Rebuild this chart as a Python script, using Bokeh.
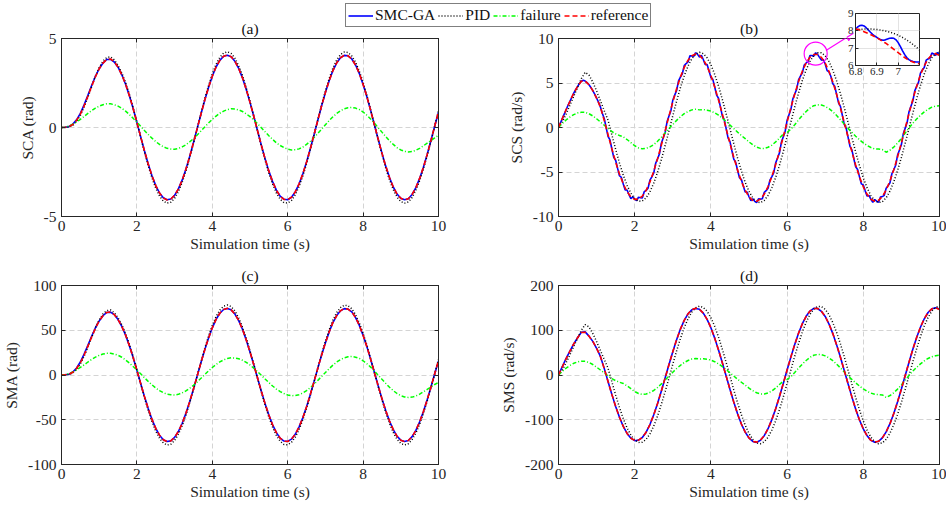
import numpy as np
from bokeh.plotting import figure
from bokeh.layouts import gridplot, column
from bokeh.models import (Range1d, FixedTicker, NumeralTickFormatter, Legend, LegendItem,
                          Arrow, NormalHead, LinearAxis)
from bokeh.embed import file_html
from bokeh.resources import INLINE

# ---------------- data ----------------
t = np.round(np.arange(101) * 0.1, 2)          # 0 ... 10 s, step 0.1
t_fine = np.round(np.arange(201) * 0.05, 2)    # 0 ... 10 s, step 0.05

# (a) SCA (rad)
sca_ref = [0.00, 0.01, 0.05, 0.17, 0.40, 0.75, 1.22, 1.76, 2.32, 2.85,
           3.30, 3.62, 3.82, 3.85, 3.69, 3.39, 2.96, 2.43, 1.79, 1.07,
           0.29, -0.52, -1.31, -2.05, -2.71, -3.26, -3.68, -3.95, -4.07, -4.02,
           -3.81, -3.45, -2.96, -2.34, -1.63, -0.86, -0.05, 0.76, 1.54, 2.25,
           2.88, 3.40, 3.77, 4.00, 4.07, 3.98, 3.72, 3.32, 2.79, 2.14,
           1.41, 0.63, -0.18, -0.99, -1.75, -2.45, -3.04, -3.52, -3.86, -4.04,
           -4.06, -3.92, -3.62, -3.18, -2.61, -1.94, -1.19, -0.39, 0.42, 1.22,
           1.96, 2.63, 3.20, 3.63, 3.92, 4.06, 4.03, 3.85, 3.51, 3.03,
           2.42, 1.73, 0.96, 0.15, -0.66, -1.44, -2.17, -2.81, -3.34, -3.74,
           -3.98, -4.07, -4.00, -3.76, -3.38, -2.86, -2.23, -1.51, -0.73, 0.08,
           0.89]
sca_smc = [0.00, 0.01, 0.05, 0.19, 0.43, 0.79, 1.27, 1.81, 2.36, 2.88,
           3.30, 3.62, 3.82, 3.83, 3.68, 3.39, 2.96, 2.43, 1.79, 1.07,
           0.29, -0.52, -1.31, -2.05, -2.71, -3.26, -3.68, -3.95, -4.06, -4.02,
           -3.81, -3.45, -2.96, -2.34, -1.63, -0.86, -0.05, 0.76, 1.54, 2.25,
           2.88, 3.40, 3.77, 4.00, 4.06, 3.98, 3.72, 3.32, 2.79, 2.14,
           1.41, 0.63, -0.18, -0.99, -1.75, -2.45, -3.04, -3.52, -3.86, -4.03,
           -4.06, -3.92, -3.62, -3.18, -2.61, -1.94, -1.19, -0.39, 0.42, 1.22,
           1.96, 2.63, 3.20, 3.63, 3.92, 4.05, 4.03, 3.85, 3.51, 3.03,
           2.42, 1.73, 0.96, 0.15, -0.66, -1.44, -2.17, -2.81, -3.34, -3.74,
           -3.98, -4.06, -4.00, -3.76, -3.38, -2.86, -2.23, -1.51, -0.73, 0.08,
           0.86]
sca_pid = [0.00, 0.00, 0.03, 0.12, 0.33, 0.68, 1.15, 1.70, 2.30, 2.88,
           3.37, 3.73, 3.93, 3.97, 3.80, 3.49, 3.06, 2.53, 1.87, 1.12,
           0.30, -0.54, -1.37, -2.14, -2.83, -3.41, -3.85, -4.13, -4.25, -4.20,
           -3.98, -3.61, -3.09, -2.45, -1.70, -0.90, -0.05, 0.79, 1.61, 2.35,
           3.01, 3.55, 3.94, 4.18, 4.25, 4.16, 3.89, 3.47, 2.92, 2.24,
           1.47, 0.66, -0.19, -1.03, -1.83, -2.56, -3.18, -3.68, -4.03, -4.22,
           -4.24, -4.10, -3.78, -3.32, -2.73, -2.03, -1.24, -0.41, 0.44, 1.27,
           2.05, 2.75, 3.34, 3.79, 4.10, 4.24, 4.21, 4.02, 3.67, 3.17,
           2.53, 1.81, 1.00, 0.16, -0.69, -1.50, -2.27, -2.94, -3.49, -3.91,
           -4.16, -4.25, -4.18, -3.93, -3.53, -2.99, -2.33, -1.58, -0.76, 0.08,
           0.93]
sca_fail = [0.00, 0.02, 0.08, 0.18, 0.31, 0.46, 0.62, 0.79, 0.95, 1.09,
            1.20, 1.28, 1.33, 1.33, 1.28, 1.20, 1.08, 0.92, 0.73, 0.52,
            0.30, 0.07, -0.17, -0.39, -0.60, -0.79, -0.95, -1.08, -1.17, -1.21,
            -1.22, -1.18, -1.09, -0.97, -0.81, -0.63, -0.42, -0.20, 0.03, 0.25,
            0.46, 0.64, 0.80, 0.92, 1.01, 1.05, 1.04, 0.99, 0.90, 0.77,
            0.61, 0.42, 0.21, -0.01, -0.24, -0.46, -0.67, -0.86, -1.01, -1.13,
            -1.22, -1.26, -1.25, -1.20, -1.10, -0.95, -0.77, -0.56, -0.33, -0.09,
            0.15, 0.39, 0.60, 0.79, 0.94, 1.05, 1.11, 1.13, 1.09, 1.01,
            0.87, 0.69, 0.48, 0.25, -0.01, -0.26, -0.51, -0.75, -0.95, -1.13,
            -1.26, -1.34, -1.37, -1.35, -1.28, -1.17, -1.03, -0.88, -0.73, -0.58,
            -0.44]

# (b) SCS (rad/s)
scs_ref = [0.00, 1.00, 2.00, 2.95, 3.85, 4.60, 5.20, 5.22, 4.80, 4.15,
           3.30, 2.30, 0.82, -0.80, -2.39, -3.88, -5.22, -6.34, -7.22, -7.80,
           -8.08, -8.04, -7.71, -7.06, -6.12, -4.91, -3.51, -1.97, -0.35, 1.29,
           2.87, 4.36, 5.67, 6.75, 7.56, 8.06, 8.25, 8.11, 7.64, 6.87,
           5.83, 4.55, 3.09, 1.51, -0.13, -1.77, -3.34, -4.79, -6.05, -7.05,
           -7.78, -8.20, -8.29, -8.05, -7.49, -6.63, -5.51, -4.17, -2.65, -1.04,
           0.61, 2.24, 3.77, 5.15, 6.33, 7.25, 7.89, 8.21, 8.21, 7.87,
           7.23, 6.29, 5.11, 3.72, 2.18, 0.55, -1.09, -2.70, -4.22, -5.55,
           -6.66, -7.51, -8.07, -8.29, -8.19, -7.76, -7.02, -6.01, -4.75, -3.30,
           -1.72, -0.07, 1.58, 3.17, 4.62, 5.90, 6.94, 7.71, 8.17, 8.30,
           8.10]
scs_smc = [0.00, 0.50, 1.00, 1.50, 2.00, 2.50, 2.95, 3.40, 3.85, 4.25,
           4.60, 4.95, 5.20, 5.30, 5.22, 5.05, 4.80, 4.50, 4.15, 3.75,
           3.30, 2.85, 2.30, 1.60, 1.01, 0.01, -1.00, -1.40, -2.39, -3.35,
           -3.68, -4.57, -5.42, -5.61, -6.34, -7.02, -7.02, -7.55, -8.00, -7.78,
           -8.08, -8.20, -7.84, -7.89, -7.92, -7.21, -7.06, -6.83, -5.92, -5.54,
           -5.11, -4.03, -3.51, -2.96, -1.77, -1.16, -0.55, 0.67, 1.29, 1.89,
           3.07, 3.64, 4.16, 5.24, 5.67, 6.04, 6.95, 7.19, 7.36, 8.05,
           8.06, 8.00, 8.40, 8.22, 7.91, 8.11, 7.64, 7.09, 7.07, 6.38,
           5.63, 5.41, 4.55, 3.64, 3.29, 2.31, 1.31, 0.89, -0.13, -1.16,
           -1.58, -2.58, -3.56, -3.90, -4.80, -5.65, -5.85, -6.58, -7.25, -7.25,
           -7.78, -8.23, -8.00, -8.29, -8.44, -8.01, -8.05, -8.01, -7.29, -7.10,
           -6.83, -5.90, -5.51, -5.06, -3.97, -3.43, -2.85, -1.66, -1.04, -0.41,
           0.81, 1.43, 2.04, 3.21, 3.77, 4.28, 5.35, 5.77, 6.13, 7.03,
           7.25, 7.41, 8.09, 8.09, 8.01, 8.40, 8.21, 7.88, 7.57, 7.64,
           7.13, 6.39, 6.24, 5.73, 4.91, 4.63, 3.72, 2.76, 2.38, 1.37,
           0.35, -0.07, -1.09, -2.11, -2.51, -3.48, -4.42, -4.71, -5.55, -6.34,
           -6.46, -7.12, -7.71, -7.63, -8.07, -8.42, -8.09, -8.28, -8.39, -7.82,
           -7.76, -7.63, -6.82, -6.55, -6.21, -5.20, -4.75, -4.24, -3.10, -2.52,
           -1.92, -0.70, -0.07, 0.56, 1.78, 2.38, 2.97, 4.11, 4.62, 5.09,
           6.10, 6.46, 6.74, 7.56, 7.71, 7.78, 8.37, 8.27, 8.10, 8.44,
           8.10]
scs_pid = [0.00, 0.60, 1.50, 2.50, 3.50, 4.50, 5.50, 6.20, 5.90, 5.10,
           4.10, 3.00, 1.90, 0.83, -0.82, -2.45, -3.98, -5.35, -6.50, -7.39,
           -8.00, -8.28, -8.25, -7.90, -7.23, -6.26, -5.03, -3.60, -2.03, -0.36,
           1.33, 2.96, 4.47, 5.81, 6.91, 7.74, 8.26, 8.45, 8.30, 7.83,
           7.04, 5.97, 4.66, 3.16, 1.55, -0.14, -1.81, -3.42, -4.88, -6.16,
           -7.18, -7.92, -8.35, -8.44, -8.20, -7.63, -6.75, -5.61, -4.25, -2.70,
           -1.06, 0.63, 2.29, 3.86, 5.28, 6.48, 7.43, 8.08, 8.41, 8.40,
           8.06, 7.40, 6.44, 5.23, 3.81, 2.24, 0.57, -1.12, -2.76, -4.29,
           -5.65, -6.79, -7.65, -8.21, -8.44, -8.34, -7.90, -7.15, -6.11, -4.83,
           -3.36, -1.75, -0.07, 1.61, 3.22, 4.71, 6.01, 7.07, 7.85, 8.31,
           8.45]
scs_fail = [0.00, 0.45, 0.85, 1.18, 1.45, 1.63, 1.72, 1.70, 1.55, 1.30,
            0.98, 0.62, 0.25, -0.10, -0.45, -0.70, -0.90, -1.05, -1.35, -1.70,
            -2.05, -2.30, -2.40, -2.35, -2.18, -1.92, -1.55, -1.10, -0.62, -0.12,
            0.35, 0.80, 1.20, 1.55, 1.80, 1.98, 2.05, 1.98, 2.02, 1.95,
            1.85, 1.65, 1.38, 1.05, 0.68, 0.28, -0.12, -0.52, -0.90, -1.25,
            -1.62, -1.95, -2.20, -2.35, -2.35, -2.22, -1.98, -1.62, -1.18, -0.75,
            -0.55, -0.20, 0.30, 0.85, 1.35, 1.80, 2.18, 2.45, 2.55, 2.52,
            2.38, 2.12, 1.78, 1.35, 0.88, 0.38, -0.10, -0.55, -0.98, -1.38,
            -1.72, -2.02, -2.25, -2.40, -2.42, -2.48, -2.78, -2.55, -2.20, -1.75,
            -1.22, -0.62, -0.05, 0.48, 0.95, 1.38, 1.75, 2.05, 2.28, 2.40,
            2.45]

# zoomed window of (b): 6.8 ... 7.1 s
ins_t = np.round(6.8 + np.arange(31) * 0.01, 2)
ins_t2 = np.round(6.8 + np.arange(16) * 0.02, 2)
ins_smc = [8.10, 8.22, 8.30, 8.32, 8.28, 8.18, 8.05, 7.92, 7.80, 7.70,
           7.62, 7.54, 7.48, 7.46, 7.48, 7.53, 7.57, 7.59, 7.57, 7.48,
           7.32, 7.10, 6.86, 6.64, 6.46, 6.34, 6.27, 6.23, 6.21, 6.20,
           6.20]
ins_ref = [8.12, 8.05, 7.95, 7.85, 7.73, 7.60, 7.45, 7.30, 7.12, 6.93,
           6.74, 6.55, 6.38, 6.24, 6.15, 6.10]
ins_pid = [8.08, 8.09, 8.10, 8.10, 8.10, 8.08, 8.04, 7.99, 7.93, 7.85,
           7.75, 7.62, 7.47, 7.30, 7.11, 6.90]
zoom_t = [6.75]
zoom_v = [8.3]
arrow_from = (7.02, 8.65)
arrow_to = (7.74, 10.6)

# (c) SMA (rad)
sma_ref = [0.0, 0.2, 0.9, 3.1, 7.3, 13.7, 22.3, 32.2, 42.5, 52.2,
           60.4, 66.2, 69.9, 70.5, 67.5, 62.0, 54.2, 44.5, 32.8, 19.6,
           5.3, -9.5, -24.0, -37.5, -49.6, -59.7, -67.3, -72.3, -74.5, -73.6,
           -69.7, -63.1, -54.2, -42.8, -29.8, -15.7, -0.9, 13.9, 28.2, 41.2,
           52.7, 62.2, 69.0, 73.2, 74.5, 72.8, 68.1, 60.8, 51.1, 39.2,
           25.8, 11.5, -3.3, -18.1, -32.0, -44.8, -55.6, -64.4, -70.6, -73.9,
           -74.3, -71.7, -66.2, -58.2, -47.8, -35.5, -21.8, -7.1, 7.7, 22.3,
           35.9, 48.1, 58.6, 66.4, 71.7, 74.3, 73.7, 70.5, 64.2, 55.4,
           44.3, 31.7, 17.6, 2.7, -12.1, -26.4, -39.7, -51.4, -61.1, -68.4,
           -72.8, -74.5, -73.2, -68.8, -61.9, -52.3, -40.8, -27.6, -13.4, 1.5,
           16.3]
sma_smc = [0.0, 0.2, 0.9, 3.4, 7.8, 14.5, 23.3, 33.2, 43.3, 52.8,
           60.4, 66.2, 69.9, 70.2, 67.5, 62.0, 54.2, 44.5, 32.8, 19.6,
           5.3, -9.5, -24.0, -37.5, -49.6, -59.7, -67.3, -72.3, -74.3, -73.6,
           -69.7, -63.1, -54.2, -42.8, -29.8, -15.7, -0.9, 13.9, 28.2, 41.2,
           52.7, 62.2, 69.0, 73.2, 74.3, 72.8, 68.1, 60.8, 51.1, 39.2,
           25.8, 11.5, -3.3, -18.1, -32.0, -44.8, -55.6, -64.4, -70.6, -73.8,
           -74.2, -71.7, -66.2, -58.2, -47.8, -35.5, -21.8, -7.1, 7.7, 22.3,
           35.9, 48.1, 58.6, 66.4, 71.7, 74.2, 73.7, 70.5, 64.2, 55.4,
           44.3, 31.7, 17.6, 2.7, -12.1, -26.4, -39.7, -51.4, -61.1, -68.4,
           -72.8, -74.3, -73.2, -68.8, -61.9, -52.3, -40.8, -27.6, -13.4, 1.5,
           15.8]
sma_pid = [0.0, 0.0, 0.5, 2.2, 6.0, 12.4, 21.0, 31.1, 42.0, 52.7,
           61.7, 68.2, 71.9, 72.7, 69.5, 63.9, 56.1, 46.3, 34.3, 20.6,
           5.6, -10.0, -25.2, -39.4, -52.1, -62.7, -70.7, -75.9, -78.2, -77.3,
           -73.2, -66.3, -56.9, -44.9, -31.3, -16.5, -0.9, 14.6, 29.6, 43.3,
           55.3, 65.3, 72.5, 76.9, 78.2, 76.4, 71.5, 63.8, 53.7, 41.2,
           27.1, 12.1, -3.5, -19.0, -33.6, -47.0, -58.4, -67.6, -74.1, -77.6,
           -78.0, -75.3, -69.5, -61.1, -50.2, -37.3, -22.9, -7.5, 8.1, 23.4,
           37.7, 50.5, 61.5, 69.7, 75.3, 78.0, 77.4, 74.0, 67.4, 58.2,
           46.5, 33.3, 18.5, 2.8, -12.7, -27.7, -41.7, -54.0, -64.2, -71.8,
           -76.4, -78.2, -76.9, -72.2, -65.0, -54.9, -42.8, -29.0, -14.1, 1.6,
           17.1]
sma_fail = [0.0, 0.4, 1.5, 3.3, 5.7, 8.4, 11.3, 14.5, 17.4, 19.9,
            22.0, 23.4, 24.3, 24.3, 23.4, 22.0, 19.8, 16.8, 13.4, 9.5,
            5.5, 1.3, -3.1, -7.1, -11.0, -14.5, -17.4, -19.8, -21.4, -22.1,
            -22.3, -21.6, -19.9, -17.8, -14.8, -11.5, -7.7, -3.7, 0.5, 4.6,
            8.4, 11.7, 14.6, 16.8, 18.5, 19.2, 19.0, 18.1, 16.5, 14.1,
            11.2, 7.7, 3.8, -0.2, -4.4, -8.4, -12.3, -15.7, -18.5, -20.7,
            -22.3, -23.1, -22.9, -22.0, -20.1, -17.4, -14.1, -10.2, -6.0, -1.6,
            2.7, 7.1, 11.0, 14.5, 17.2, 19.2, 20.3, 20.7, 19.9, 18.5,
            15.9, 12.6, 8.8, 4.6, -0.2, -4.8, -9.3, -13.7, -17.4, -20.7,
            -23.1, -24.5, -25.1, -24.7, -23.4, -21.4, -18.8, -16.1, -13.4, -10.6,
            -8.1]

# (d) SMS (rad/s)
sms_ref = [0.0, 18.1, 36.2, 53.4, 69.7, 83.3, 94.8, 95.5, 86.9, 75.1,
           59.7, 41.6, 14.8, -14.5, -43.3, -70.2, -94.5, -114.8, -130.7, -141.2,
           -146.2, -145.5, -139.6, -127.8, -110.8, -88.9, -63.5, -35.7, -6.3, 23.3,
           51.9, 78.9, 102.6, 122.2, 136.8, 145.9, 149.3, 146.8, 138.3, 124.3,
           105.5, 82.4, 55.9, 27.3, -2.4, -32.0, -60.5, -86.7, -109.5, -127.6,
           -140.8, -148.4, -150.0, -145.7, -135.6, -120.0, -99.7, -75.5, -48.0, -18.8,
           11.0, 40.5, 68.2, 93.2, 114.6, 131.2, 142.8, 148.6, 148.6, 142.4,
           130.9, 113.8, 92.5, 67.3, 39.5, 10.0, -19.7, -48.9, -76.4, -100.5,
           -120.5, -135.9, -146.1, -150.0, -148.2, -140.5, -127.1, -108.8, -86.0, -59.7,
           -31.1, -1.3, 28.6, 57.4, 83.6, 106.8, 125.6, 139.6, 147.9, 150.2,
           146.6]
sms_smc = [0.0, 18.8, 37.0, 53.4, 69.7, 83.3, 95.5, 96.3, 86.9, 75.1,
           59.7, 41.6, 14.8, -14.5, -43.3, -70.2, -94.5, -114.8, -130.7, -141.2,
           -146.8, -145.5, -139.6, -127.8, -110.8, -88.9, -63.5, -35.7, -6.3, 23.3,
           51.9, 78.9, 102.6, 122.2, 136.8, 145.9, 148.8, 146.8, 138.3, 124.3,
           105.5, 82.4, 55.9, 27.3, -2.4, -32.0, -60.5, -86.7, -109.5, -127.6,
           -140.8, -148.4, -150.6, -145.7, -135.6, -120.0, -99.7, -75.5, -48.0, -18.8,
           11.0, 40.5, 68.2, 93.2, 114.6, 131.2, 142.8, 149.0, 148.6, 142.4,
           130.9, 113.8, 92.5, 67.3, 39.5, 10.0, -19.7, -48.9, -76.4, -100.5,
           -120.5, -135.9, -146.1, -150.4, -148.2, -140.5, -127.1, -108.8, -86.0, -59.7,
           -31.1, -1.3, 28.6, 57.4, 83.6, 106.8, 125.6, 139.6, 147.9, 150.2,
           147.3]
sms_pid = [0.0, 10.9, 27.3, 45.5, 63.7, 81.9, 100.1, 112.8, 107.4, 92.8,
           74.6, 54.6, 34.6, 15.1, -14.9, -44.6, -72.4, -97.4, -118.3, -134.5,
           -145.6, -150.7, -150.2, -143.8, -131.6, -113.9, -91.5, -65.5, -36.9, -6.6,
           24.2, 53.9, 81.4, 105.7, 125.8, 140.9, 150.3, 153.8, 151.1, 142.5,
           128.1, 108.7, 84.8, 57.5, 28.2, -2.5, -32.9, -62.2, -88.8, -112.1,
           -130.7, -144.1, -152.0, -153.6, -149.2, -138.9, -122.9, -102.1, -77.4, -49.1,
           -19.3, 11.5, 41.7, 70.3, 96.1, 117.9, 135.2, 147.1, 153.1, 152.9,
           146.7, 134.7, 117.2, 95.2, 69.3, 40.8, 10.4, -20.4, -50.2, -78.1,
           -102.8, -123.6, -139.2, -149.4, -153.6, -151.8, -143.8, -130.1, -111.2, -87.9,
           -61.2, -31.9, -1.3, 29.3, 58.6, 85.7, 109.4, 128.7, 142.9, 151.2,
           153.8]
sms_fail = [0.0, 8.1, 15.3, 21.2, 26.1, 29.3, 31.0, 30.6, 27.9, 23.4,
            17.6, 11.2, 4.5, -1.8, -8.1, -12.6, -16.2, -18.9, -24.3, -30.6,
            -36.9, -41.4, -43.2, -42.3, -39.2, -34.6, -27.9, -19.8, -11.2, -2.2,
            6.3, 14.4, 21.6, 27.9, 32.4, 35.6, 36.9, 35.6, 36.4, 35.1,
            33.3, 29.7, 24.8, 18.9, 12.2, 5.0, -2.2, -9.4, -16.2, -22.5,
            -29.2, -35.1, -39.6, -42.3, -42.3, -40.0, -35.6, -29.2, -21.2, -13.5,
            -9.9, -3.6, 5.4, 15.3, 24.3, 32.4, 39.2, 44.1, 45.9, 45.4,
            42.8, 38.2, 32.0, 24.3, 15.8, 6.8, -1.8, -9.9, -17.6, -24.8,
            -31.0, -36.4, -40.5, -43.2, -43.6, -44.6, -50.0, -45.9, -39.6, -31.5,
            -22.0, -11.2, -0.9, 8.6, 17.1, 24.8, 31.5, 36.9, 41.0, 43.2,
            44.1]

x_ticks = [0, 2, 4, 6, 8, 10]
series_names = ["SMC-GA", "PID", "failure", "reference"]

# ---------------- styling ----------------
FONT = "Liberation Serif"
AXC = "#262626"
GRIDC = "#d4d4d4"
FS = "15.5px"
STY = {
    "SMC-GA": dict(line_color="#0000FF", line_width=1.6),
    "PID": dict(line_color="#000000", line_width=1.5, line_dash="1 2"),
    "failure": dict(line_color="#00FF00", line_width=1.5, line_dash="4 2 1 2"),
    "reference": dict(line_color="#FF0000", line_width=1.6, line_dash="5 3"),
}


def style_axis(ax, size=FS, tick_in=4):
    ax.major_tick_in = tick_in
    ax.major_tick_out = 0
    ax.minor_tick_line_color = None
    ax.axis_line_color = AXC
    ax.major_tick_line_color = AXC
    ax.major_label_text_font = FONT
    ax.major_label_text_font_size = size
    ax.major_label_text_color = AXC


def panel(title, ylabel, yr, yticks, width, height, bl, br, bt, bb):
    p = figure(width=width, height=height, output_backend="svg", toolbar_location=None,
               x_range=Range1d(0, 10), y_range=Range1d(*yr),
               min_border_left=bl, min_border_right=br, min_border_top=bt, min_border_bottom=bb)
    p.title.text = title
    p.title.align = "center"
    p.title.text_font = FONT
    p.title.text_font_size = FS
    p.title.text_font_style = "normal"
    p.title.text_color = "#111111"
    p.title.standoff = 3
    p.background_fill_color = "white"
    p.border_fill_color = "white"
    p.outline_line_color = AXC
    p.outline_line_width = 1
    p.xaxis.ticker = FixedTicker(ticks=x_ticks)
    p.yaxis.ticker = FixedTicker(ticks=yticks)
    p.xaxis.formatter = NumeralTickFormatter(format="0")
    p.yaxis.formatter = NumeralTickFormatter(format="0")
    p.xaxis.axis_label = "Simulation time (s)"
    p.yaxis.axis_label = ylabel
    for ax in (p.xaxis[0], p.yaxis[0]):
        style_axis(ax)
        ax.axis_label_text_font = FONT
        ax.axis_label_text_font_size = FS
        ax.axis_label_text_font_style = "normal"
        ax.axis_label_text_color = AXC
    p.xaxis.major_label_standoff = 4
    p.xaxis.axis_label_standoff = 1
    p.yaxis.major_label_standoff = 5
    p.yaxis.axis_label_standoff = 5
    # box ticks on top / right (tick marks only, no labels)
    for side, tk in (("right", yticks), ("above", x_ticks)):
        ax = LinearAxis(ticker=FixedTicker(ticks=tk))
        style_axis(ax, size="0px")
        ax.major_label_text_color = None
        ax.major_label_standoff = 0
        p.add_layout(ax, side)
    p.grid.grid_line_color = GRIDC
    p.grid.grid_line_dash = "5 3"
    p.grid.grid_line_width = 1
    return p


def draw(p, tx, smc, pid, fail, ref, t_smc=None):
    p.line(t_smc if t_smc is not None else tx, smc, **STY["SMC-GA"])
    p.line(tx, pid, **STY["PID"])
    p.line(tx, fail, **STY["failure"])
    p.line(tx, ref, **STY["reference"])


W_A, W_B = 478, 468
H1, H2 = 256, 248

pa = panel("(a)", "SCA (rad)", (-5, 5), [-5, 0, 5], W_A, H1, 60, 40, 38, 40)
pb = panel("(b)", "SCS (rad/s)", (-10, 10), [-10, -5, 0, 5, 10], W_B, H1, 80, 7, 38, 40)
pc = panel("(c)", "SMA (rad)", (-100, 100), [-100, -50, 0, 50, 100], W_A, H2, 60, 40, 29, 40)
pd = panel("(d)", "SMS (rad/s)", (-200, 200), [-200, -100, 0, 100, 200], W_B, H2, 80, 7, 29, 40)

draw(pa, t, sca_smc, sca_pid, sca_fail, sca_ref)
draw(pb, t, scs_smc, scs_pid, scs_fail, scs_ref, t_smc=t_fine)
draw(pc, t, sma_smc, sma_pid, sma_fail, sma_ref)
draw(pd, t, sms_smc, sms_pid, sms_fail, sms_ref)

# zoom marker + arrow in (b)
pb.scatter(zoom_t, zoom_v, marker="circle", size=23, fill_color=None,
           line_color="#FF00FF", line_width=1.2)
pb.add_layout(Arrow(end=NormalHead(size=8, fill_color="#FF00FF", line_color="#FF00FF"),
                    x_start=arrow_from[0], y_start=arrow_from[1],
                    x_end=arrow_to[0], y_end=arrow_to[1],
                    line_color="#FF00FF", line_width=1.2))

grid = gridplot([[pa, pb], [pc, pd]], toolbar_location=None)

# ---------------- legend (overlay) ----------------
leg = figure(width=360, height=26, output_backend="svg", toolbar_location=None,
             x_range=Range1d(0, 1), y_range=Range1d(0, 1), x_axis_type=None, y_axis_type=None,
             min_border=0, outline_line_color=None,
             styles={"position": "absolute", "left": "330px", "top": "3px", "z-index": "10"})
leg.background_fill_color = None
leg.border_fill_color = None
leg.grid.visible = False
items = []
for name in series_names:
    r = leg.line([np.nan, np.nan], [np.nan, np.nan], **STY[name])
    items.append(LegendItem(label=name, renderers=[r]))
lg = Legend(items=items, orientation="horizontal", location="top_left", margin=0, padding=2,
            spacing=3, glyph_width=25, glyph_height=17, label_height=17, label_standoff=2,
            label_text_font=FONT, label_text_font_size=FS, label_text_color="#111111",
            border_line_color="#000000", border_line_width=1,
            background_fill_color="white", background_fill_alpha=1.0)
leg.add_layout(lg)

# ---------------- inset (overlay) ----------------
ins = figure(width=82, height=76, output_backend="svg", toolbar_location=None,
             x_range=Range1d(6.8, 7.1), y_range=Range1d(6, 9),
             min_border_left=15, min_border_right=3, min_border_top=8, min_border_bottom=16,
             styles={"position": "absolute", "left": "840px", "top": "5px", "z-index": "10"})
ins.background_fill_color = "white"
ins.border_fill_color = None
ins.outline_line_color = AXC
ins.xaxis.ticker = FixedTicker(ticks=[6.8, 6.9, 7.0])
ins.yaxis.ticker = FixedTicker(ticks=[6, 7, 8, 9])
ins.xaxis.formatter = NumeralTickFormatter(format="0.[0]")
ins.yaxis.formatter = NumeralTickFormatter(format="0")
for ax in (ins.xaxis[0], ins.yaxis[0]):
    style_axis(ax, size="11px", tick_in=3)
    ax.major_label_standoff = 2
ins.grid.grid_line_color = "#e3e3e3"
ins.line(ins_t, ins_smc, **STY["SMC-GA"])
ins.line(ins_t2, ins_pid, **STY["PID"])
ins.line(ins_t2, ins_ref, **STY["reference"])

layout = column(grid, leg, ins, styles={"position": "relative"})

open("out.html", "w").write(file_html(layout, INLINE))
